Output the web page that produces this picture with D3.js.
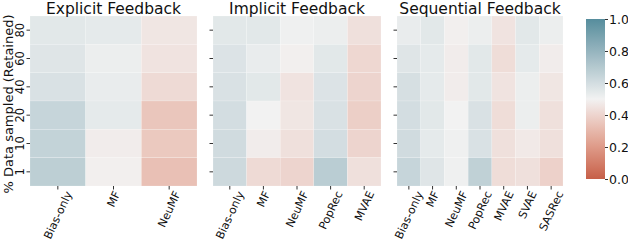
<!DOCTYPE html>
<html>
<head>
<meta charset="utf-8">
<script src="https://cdn.jsdelivr.net/npm/d3@7"></script>
<style>
  body { margin: 0; background: #fff; }
  svg text { font-family: "DejaVu Sans", sans-serif; fill: #111; }
  .tick line { stroke: #333; }
  .domain { display: none; }
</style>
</head>
<body>
<div id="chart"></div>
<script>
const rows = ['80', '60', '40', '20', '10', '1']

const explicitModels = ['Bias-only', 'MF', 'NeuMF']
const explicitVals = [
    [0.55, 0.54, 0.46],
    [0.56, 0.52, 0.45],
    [0.58, 0.53, 0.42],
    [0.64, 0.54, 0.35],
    [0.65, 0.48, 0.36],
    [0.67, 0.49, 0.33]
]

const implicitModels = ['Bias-only', 'MF', 'NeuMF', 'PopRec', 'MVAE']
const implicitVals = [
    [0.55, 0.55, 0.51, 0.52, 0.44],
    [0.57, 0.53, 0.49, 0.55, 0.41],
    [0.58, 0.55, 0.45, 0.57, 0.40],
    [0.60, 0.50, 0.46, 0.58, 0.38],
    [0.61, 0.48, 0.44, 0.60, 0.40],
    [0.62, 0.42, 0.40, 0.68, 0.44]
]

const sequentialModels = ['Bias-only', 'MF', 'NeuMF', 'PopRec', 'MVAE', 'SVAE', 'SASRec']
const sequentialVals = [
    [0.53, 0.55, 0.49, 0.52, 0.45, 0.55, 0.52],
    [0.56, 0.54, 0.48, 0.55, 0.43, 0.54, 0.48],
    [0.59, 0.54, 0.48, 0.55, 0.45, 0.52, 0.46],
    [0.60, 0.55, 0.50, 0.58, 0.43, 0.52, 0.44],
    [0.61, 0.54, 0.51, 0.58, 0.44, 0.47, 0.44],
    [0.64, 0.56, 0.51, 0.66, 0.43, 0.44, 0.39]
]

const cbTicks = [0.0, 0.2, 0.4, 0.6, 0.8, 1.0]

const svgw = 628
const svgh = 240
const plotTop = 16
const plotBottom = 186

const panels = [
    {title: 'Explicit Feedback', models: explicitModels, vals: explicitVals, x0: 30, x1: 197},
    {title: 'Implicit Feedback', models: implicitModels, vals: implicitVals, x0: 213, x1: 381},
    {title: 'Sequential Feedback', models: sequentialModels, vals: sequentialVals, x0: 397, x1: 563}
]

const color = d3.scaleLinear()
    .domain([0, 0.5, 1])
    .range(['#c65f48', '#f2f2f2', '#568d9d'])
    .interpolate(d3.interpolateLab)

const svg = d3.select('#chart')
    .append('svg')
    .attr('width', svgw)
    .attr('height', svgh)

const yScale = d3.scaleBand()
    .domain(rows)
    .range([plotTop, plotBottom])

const angle = 65
const rad = angle * Math.PI / 180
const labelTop = plotBottom + 4
const labelH = 8.5

panels.forEach((p, pi) => {
    const xScale = d3.scaleBand()
        .domain(p.models)
        .range([p.x0, p.x1])

    const cells = []
    p.vals.forEach((row, ri) => row.forEach((v, ci) => cells.push({row: rows[ri], model: p.models[ci], v: v})))

    svg.append('g')
        .selectAll('rect')
        .data(cells)
        .enter()
        .append('rect')
        .attr('x', d => xScale(d.model))
        .attr('y', d => yScale(d.row))
        .attr('width', xScale.bandwidth())
        .attr('height', yScale.bandwidth())
        .attr('fill', d => color(d.v))
        .attr('stroke', '#ffffff')
        .attr('stroke-opacity', 0.35)
        .attr('stroke-width', 0.5)

    svg.append('text')
        .attr('x', (p.x0 + p.x1) / 2)
        .attr('y', 14)
        .attr('text-anchor', 'middle')
        .style('font-size', '15.5px')
        .text(p.title)

    const yAxis = svg.append('g')
        .attr('transform', `translate(${p.x0},0)`)
        .call(d3.axisLeft(yScale).tickSize(3.5).tickPadding(2))
    yAxis.selectAll('.tick text')
        .style('font-size', '11.5px')
        .attr('transform', 'rotate(-90)')
        .attr('text-anchor', 'middle')
        .attr('x', 0)
        .attr('dy', 0)
        .attr('y', -6)
    if (pi > 0) yAxis.selectAll('.tick text').remove()

    const xAxis = svg.append('g')
        .attr('transform', `translate(0,${plotBottom})`)
        .call(d3.axisBottom(xScale).tickSize(3.5).tickPadding(2))
    // center the rotated label's bounding box under its tick (like matplotlib ha='center')
    xAxis.selectAll('.tick text')
        .style('font-size', '11.2px')
        .attr('text-anchor', 'middle')
        .attr('dy', '0.35em')
        .attr('y', 0)
        .each(function() {
            const L = this.getComputedTextLength()
            const bh = L * Math.sin(rad) + labelH * Math.cos(rad)
            const cy = labelTop - plotBottom + bh / 2
            d3.select(this).attr('transform', `translate(0,${cy}) rotate(-${angle})`)
        })
})

svg.append('text')
    .attr('transform', `translate(8,104) rotate(-90)`)
    .attr('text-anchor', 'middle')
    .attr('dy', '0.35em')
    .style('font-size', '13px')
    .text('% Data sampled (Retained)')

// colorbar
const cbx = 586
const cbw = 19
const cbTop = 19
const cbBot = 179
const cbScale = d3.scaleLinear().domain([0, 1]).range([cbBot, cbTop])

const grad = svg.append('defs')
    .append('linearGradient')
    .attr('id', 'cbgrad')
    .attr('x1', 0).attr('y1', 1).attr('x2', 0).attr('y2', 0)
d3.range(0, 1.0001, 0.05).forEach(t => {
    grad.append('stop')
        .attr('offset', t)
        .attr('stop-color', color(t))
})

svg.append('rect')
    .attr('x', cbx)
    .attr('y', cbTop)
    .attr('width', cbw)
    .attr('height', cbBot - cbTop)
    .attr('fill', 'url(#cbgrad)')

const cbAxis = svg.append('g')
    .attr('transform', `translate(${cbx + cbw},0)`)
    .call(d3.axisRight(cbScale).tickValues(cbTicks).tickFormat(d3.format('.1f')).tickSize(3).tickPadding(1))
cbAxis.selectAll('.tick text').style('font-size', '12.5px')
</script>
</body>
</html>
